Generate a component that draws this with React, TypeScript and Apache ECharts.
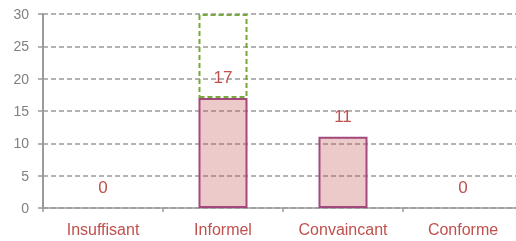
import React, { useEffect, useRef } from "react";
import * as echarts from "echarts";

const categories = ["Insuffisant", "Informel", "Convaincant", "Conforme"];
const counts = [0, 17, 11, 0];
const remainder = [null, 13, null, null];
const yTicks = { min: 0, max: 30, interval: 5 };

const FONT = "'Liberation Sans', Arial, sans-serif";

export default function App() {
  const ref = useRef<HTMLDivElement>(null);
  useEffect(() => {
    if (!ref.current) return;
    const chart = echarts.init(ref.current, undefined, { renderer: "svg" });
    chart.setOption({
      animation: false,
      grid: { left: 43, right: 0, top: 14, bottom: 33, containLabel: false },
      xAxis: {
        type: "category",
        data: categories,
        axisLine: { show: true, lineStyle: { color: "#9a9a9a", width: 1.5 } },
        axisTick: { show: true, length: 4, lineStyle: { color: "#9a9a9a", width: 1.5 } },
        axisLabel: { color: "#c0504d", fontSize: 16, fontFamily: FONT, margin: 13, interval: 0 },
      },
      yAxis: {
        type: "value",
        min: yTicks.min,
        max: yTicks.max,
        interval: yTicks.interval,
        axisLine: { show: true, lineStyle: { color: "#9a9a9a", width: 2 } },
        axisTick: { show: true, length: 5, lineStyle: { color: "#9a9a9a", width: 1.5 } },
        axisLabel: { color: "#808080", fontSize: 14, fontFamily: FONT, margin: 14 },
        splitLine: { show: true, lineStyle: { color: "#9a9a9a", width: 1.5, type: [5, 3] } },
      },
      series: [
        {
          type: "bar",
          stack: "s",
          data: counts.map((v) =>
            v === 0
              ? { value: v, itemStyle: { borderColor: "rgba(0,0,0,0)", borderWidth: 0 } }
              : v
          ),
          barWidth: 49,
          itemStyle: { color: "rgba(192,80,77,0.3)", borderColor: "#a3487c", borderWidth: 2 },
          label: {
            show: true,
            position: "top",
            distance: 12,
            color: "#c0504d",
            fontSize: 17,
            fontFamily: FONT,
          },
        },
        {
          type: "bar",
          stack: "s",
          data: remainder,
          barWidth: 49,
          itemStyle: {
            color: "rgba(0,0,0,0)",
            borderColor: "#77a83a",
            borderWidth: 2,
            borderType: [5, 3],
          },
          label: { show: false },
        },
      ],
    });
    return () => chart.dispose();
  }, []);
  return (
    <div style={{ position: "fixed", left: 0, top: 0, width: 516, height: 241, overflow: "hidden" }}>
      <div ref={ref} style={{ width: 523, height: 241 }} />
    </div>
  );
}
